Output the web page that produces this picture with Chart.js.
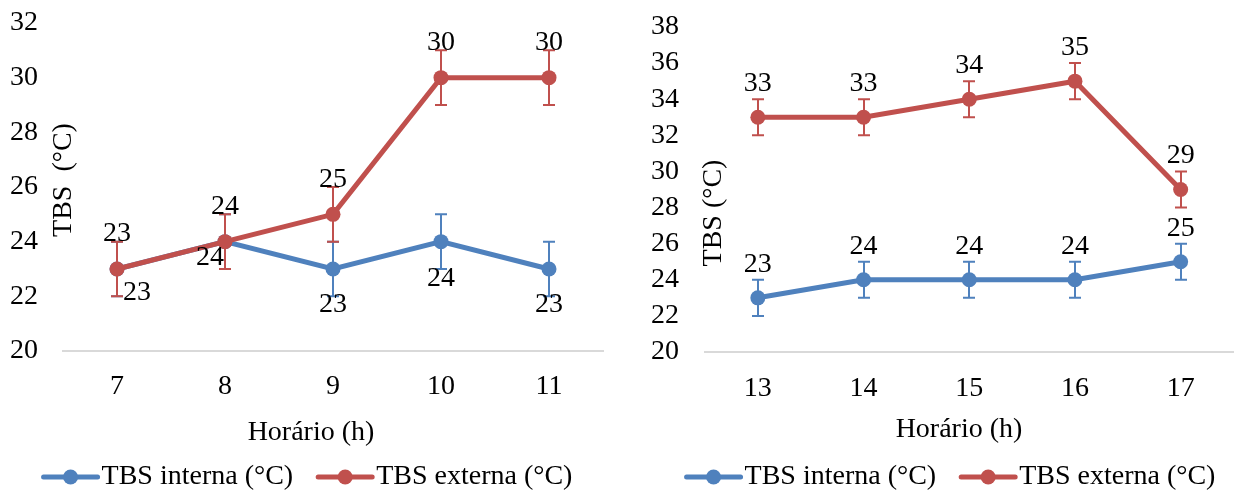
<!DOCTYPE html>
<html><head><meta charset="utf-8">
<script src="https://cdn.jsdelivr.net/npm/chart.js@4/dist/chart.umd.min.js"></script>
<style>
html,body{margin:0;padding:0;background:#fff;}
#wrap{position:relative;width:1241px;height:493px;overflow:hidden;}
.c{position:absolute;top:0;height:493px;}
#c1{left:0;width:620px;}
#c2{left:620px;width:621px;}
</style></head><body>
<div id="wrap"><div class="c" id="c1"><canvas id="ch1"></canvas></div><div class="c" id="c2"><canvas id="ch2"></canvas></div></div>
<script>
// ---- data ----
const hoursMorning = ['7', '8', '9', '10', '11'];
const internaMorning = [23, 24, 23, 24, 23];
const externaMorning = [23, 24, 25, 30, 30];
const errInternaMorning = [1, 1, 1, 1, 1];
const errExternaMorning = [1, 1, 1, 1, 1];
const yTicksMorning = [20, 22, 24, 26, 28, 30, 32];

const hoursAfternoon = ['13', '14', '15', '16', '17'];
const internaAfternoon = [23, 24, 24, 24, 25];
const externaAfternoon = [33, 33, 34, 35, 29];
const errInternaAfternoon = [1, 1, 1, 1, 1];
const errExternaAfternoon = [1, 1, 1, 1, 1];
const yTicksAfternoon = [20, 22, 24, 26, 28, 30, 32, 34, 36, 38];

const seriesNames = ['TBS interna (°C)', 'TBS externa (°C)'];
const xTitle = 'Horário (h)';
const yTitleMorning = 'TBS  (°C)';
const yTitleAfternoon = 'TBS (°C)';

// ---- styles ----
const BLUE = '#4F81BD', RED = '#C0504D';
const FONT = '"Liberation Serif", "Times New Roman", Times, serif';
Chart.defaults.font.family = FONT;
Chart.defaults.font.size = 28;
Chart.defaults.color = '#000';

const extras = {
  id: 'extras',
  afterDatasetDraw(chart, args) {
    const ds = chart.data.datasets[args.index];
    if (!ds.errors) return;
    const ys = chart.scales.y, ctx = chart.ctx;
    ctx.save();
    ctx.strokeStyle = ds.borderColor;
    ctx.lineWidth = 2;
    args.meta.data.forEach((pt, i) => {
      const v = ds.data[i], e = ds.errors[i];
      const yTop = ys.getPixelForValue(v + e), yBot = ys.getPixelForValue(v - e);
      const x = Math.round(pt.x);
      ctx.beginPath();
      ctx.moveTo(x, yBot); ctx.lineTo(x, yTop);
      ctx.moveTo(x - 6, yBot); ctx.lineTo(x + 6, yBot);
      ctx.moveTo(x - 6, yTop); ctx.lineTo(x + 6, yTop);
      ctx.stroke();
    });
    ctx.restore();
  },
  afterDraw(chart, args, o) {
    const ctx = chart.ctx;
    ctx.save();
    ctx.font = '28px ' + FONT;
    ctx.fillStyle = '#000';
    ctx.textAlign = 'center';
    ctx.textBaseline = 'middle';
    // data labels
    chart.data.datasets.forEach((ds, di) => {
      const meta = chart.getDatasetMeta(di);
      const offs = o.labelOffsets[di];
      meta.data.forEach((pt, i) => {
        const off = offs[i];
        ctx.fillText(String(ds.data[i]), pt.x + off[0], pt.y + off[1]);
      });
    });
    // axis titles
    ctx.fillText(o.xTitle, o.xTitlePos[0], o.xTitlePos[1]);
    ctx.save();
    ctx.translate(o.yTitlePos[0], o.yTitlePos[1]);
    ctx.rotate(-Math.PI / 2);
    ctx.fillText(o.yTitle, 0, 0);
    ctx.restore();
    // legend
    const items = chart.data.datasets.map(ds => ({ text: ds.label, color: ds.borderColor }));
    const lineW = 58, gapT = 2, gapItem = 23;
    const widths = items.map(it => lineW + gapT + ctx.measureText(it.text).width);
    const total = widths.reduce((a, b) => a + b, 0) + gapItem * (items.length - 1);
    let x = o.legendPos[0] - total / 2;
    const ly = o.legendPos[1];
    ctx.textAlign = 'left';
    items.forEach((it, i) => {
      ctx.strokeStyle = it.color;
      ctx.lineWidth = 5;
      ctx.lineCap = 'round';
      ctx.beginPath(); ctx.moveTo(x + 2, ly); ctx.lineTo(x + lineW - 2, ly); ctx.stroke();
      ctx.fillStyle = it.color;
      ctx.beginPath(); ctx.arc(x + lineW / 2, ly, 7.5, 0, Math.PI * 2); ctx.fill();
      ctx.fillStyle = '#000';
      ctx.fillText(it.text, x + lineW + gapT, ly);
      x += widths[i] + gapItem;
    });
    ctx.restore();
  }
};

function makeChart(id, cats, interna, externa, errI, errE, yTicks, cfg) {
  return new Chart(document.getElementById(id), {
    type: 'line',
    data: {
      labels: cats,
      datasets: [
        { label: seriesNames[0], data: interna, errors: errI, borderColor: BLUE, backgroundColor: BLUE,
          borderWidth: 5, pointRadius: 7.5, pointBackgroundColor: BLUE, pointBorderWidth: 0, order: 1, tension: 0 },
        { label: seriesNames[1], data: externa, errors: errE, borderColor: RED, backgroundColor: RED,
          borderWidth: 5, pointRadius: 7.5, pointBackgroundColor: RED, pointBorderWidth: 0, order: 0, tension: 0 }
      ]
    },
    options: {
      responsive: true,
      maintainAspectRatio: false,
      animation: false,
      events: [],
      layout: { padding: cfg.padding },
      plugins: {
        legend: { display: false },
        tooltip: { enabled: false },
        extras: cfg.extras
      },
      scales: {
        x: {
          offset: true,
          grid: { display: false, drawTicks: false },
          border: { display: true, color: '#d9d9d9', width: 2 },
          ticks: { padding: cfg.xPad, color: '#000', font: { size: 28 }, autoSkip: false, maxRotation: 0 },
          afterFit: s => { s.height = cfg.xHeight; s.paddingLeft = 0; s.paddingRight = 0; }
        },
        y: {
          min: yTicks[0], max: yTicks[yTicks.length - 1],
          grid: { display: false, drawTicks: false },
          border: { display: false },
          ticks: { padding: cfg.yPad, color: '#000', font: { size: 28 }, autoSkip: false },
          afterBuildTicks: s => { s.ticks = yTicks.map(v => ({ value: v })); },
          afterFit: s => { s.width = cfg.yWidth; s.paddingTop = 0; s.paddingBottom = 0; }
        }
      }
    },
    plugins: [extras]
  });
}

makeChart('ch1', hoursMorning, internaMorning, externaMorning, errInternaMorning, errExternaMorning, yTicksMorning, {
  padding: { top: 23, right: 17, bottom: 0, left: 0 },
  xHeight: 142, yWidth: 63, xPad: 19, yPad: 25,
  extras: {
    labelOffsets: [
      [[20, 24], [-15, 16], [0, 36], [0, 37], [0, 36]],
      [[0, -35], [0, -35], [0, -35], [0, -35], [0, -35]]
    ],
    xTitle: xTitle, xTitlePos: [311, 433],
    yTitle: yTitleMorning, yTitlePos: [64, 180],
    legendPos: [307, 477]
  }
});

makeChart('ch2', hoursAfternoon, internaAfternoon, externaAfternoon, errInternaAfternoon, errExternaAfternoon, yTicksAfternoon, {
  padding: { top: 27, right: 0, bottom: 0, left: 0 },
  xHeight: 141, yWidth: 85, xPad: 20, yPad: 26,
  extras: {
    labelOffsets: [
      [[0, -33], [0, -33], [0, -33], [0, -33], [0, -33]],
      [[0, -34], [0, -34], [0, -34], [0, -34], [0, -34]]
    ],
    xTitle: xTitle, xTitlePos: [339, 430],
    yTitle: yTitleAfternoon, yTitlePos: [94, 213],
    legendPos: [330, 477]
  }
});
</script>
</body></html>
